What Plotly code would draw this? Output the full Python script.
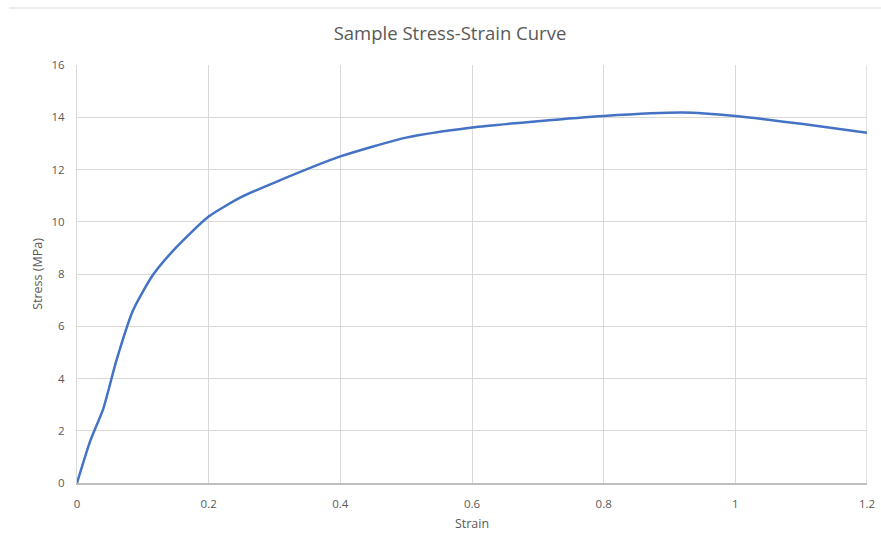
import plotly.graph_objects as go

strain = [0, 0.02, 0.04, 0.06, 0.085, 0.115, 0.15, 0.2, 0.25, 0.3, 0.4, 0.5, 0.6, 0.7, 0.8, 0.92, 1.0, 1.1, 1.2]
stress = [0, 1.6, 2.85, 4.7, 6.6, 7.95, 9.0, 10.2, 10.95, 11.5, 12.5, 13.22, 13.61, 13.85, 14.05, 14.18, 14.05, 13.75, 13.41]

x_ticks = [0, 0.2, 0.4, 0.6, 0.8, 1, 1.2]
x_tick_labels = ["0", "0.2", "0.4", "0.6", "0.8", "1", "1.2"]
y_ticks = [0, 2, 4, 6, 8, 10, 12, 14, 16]

FONT = "Open Sans"
TXT = "#595959"
GRID = "#d9d9d9"

fig = go.Figure()
fig.add_trace(go.Scatter(
    x=strain, y=stress, mode="lines",
    line=dict(color="#4472C4", width=2.5, shape="spline", smoothing=0.6),
    hoverinfo="x+y", showlegend=False,
))

fig.update_layout(
    width=881, height=548,
    margin=dict(l=77, r=14, t=65, b=65),
    paper_bgcolor="white", plot_bgcolor="white",
    font=dict(family=FONT, color=TXT, size=11),
    title=dict(text="Sample Stress-Strain Curve", x=450/881, xanchor="center",
               y=1 - 34/548, yanchor="middle",
               font=dict(family=FONT, size=18.5, color=TXT)),
    xaxis=dict(
        range=[0, 1.2], tickvals=x_ticks, ticktext=x_tick_labels,
        showgrid=True, gridcolor=GRID, gridwidth=1,
        showline=True, linecolor="#bfbfbf", linewidth=1.5,
        zeroline=False, ticks="", ticklabelstandoff=9, automargin=False,
        tickfont=dict(family=FONT, size=11.5, color=TXT),
        title=dict(text="Strain", standoff=10, font=dict(family=FONT, size=12.5, color=TXT)),
        mirror=False,
    ),
    yaxis=dict(
        range=[0, 16], tickvals=y_ticks,
        showgrid=True, gridcolor=GRID, gridwidth=1,
        showline=True, linecolor=GRID, linewidth=1,
        zeroline=False, ticks="", ticklabelstandoff=9, automargin=False,
        tickfont=dict(family=FONT, size=11.5, color=TXT),
        title=dict(text="Stress (MPa)", standoff=6, font=dict(family=FONT, size=12.5, color=TXT)),
    ),
)

# chart border line at the top of the image
fig.add_shape(type="line", xref="paper", yref="paper",
              x0=(9 - 77) / 790, x1=(881 - 77) / 790,
              y0=(548 - 65 - 8) / 418, y1=(548 - 65 - 8) / 418,
              line=dict(color="#d9d9d9", width=1))
# right gridline at 1.2
fig.add_shape(type="line", xref="x", yref="y", x0=1.2, x1=1.2, y0=0, y1=16,
              line=dict(color=GRID, width=1.5), layer="below")

fig.write_html("out.html")
